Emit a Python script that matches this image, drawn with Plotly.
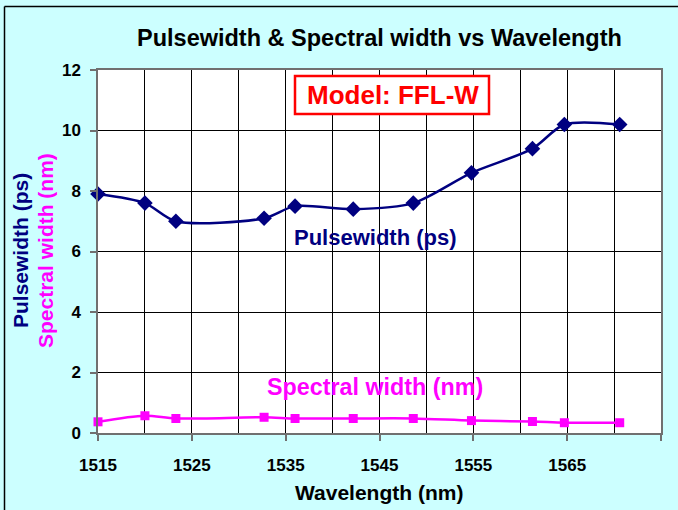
import plotly.graph_objects as go

wavelength = [1515, 1520, 1523.3, 1532.7, 1536, 1542.2, 1548.6, 1554.8, 1561.3, 1564.7, 1570.6]
pulsewidth = [7.9, 7.6, 7.0, 7.1, 7.5, 7.4, 7.6, 8.6, 9.4, 10.2, 10.2]
spectral_width = [0.37, 0.57, 0.48, 0.52, 0.48, 0.48, 0.48, 0.41, 0.38, 0.34, 0.34]

x_ticks = [1515, 1525, 1535, 1545, 1555, 1565, 1575]
y_ticks = [0, 2, 4, 6, 8, 10, 12]

NAVY = "#000080"
MAGENTA = "#FF00FF"
FONT = "Arial, Liberation Sans, sans-serif"

W, H = 678, 510
L, R, T, B = 98, 661, 70, 433


def px(x):
    return (x - L) / (R - L)


def py(y):
    return (B - y) / (B - T)


fig = go.Figure()
fig.add_trace(go.Scatter(
    x=wavelength, y=pulsewidth, mode="lines+markers",
    line=dict(color=NAVY, width=2.5, shape="spline", smoothing=0.8),
    marker=dict(symbol="diamond", size=12, color=NAVY),
    showlegend=False, cliponaxis=False,
))
fig.add_trace(go.Scatter(
    x=wavelength, y=spectral_width, mode="lines+markers",
    line=dict(color=MAGENTA, width=2.5, shape="spline", smoothing=0.8),
    marker=dict(symbol="square", size=9, color=MAGENTA),
    showlegend=False, cliponaxis=False,
))

axis_common = dict(
    showline=True, linecolor="#707070", linewidth=1.5, mirror=True,
    showgrid=True, gridcolor="#000000", gridwidth=1,
    ticks="outside", ticklen=6, tickcolor="#707070", tickwidth=1.5,
    tickfont=dict(family=FONT, size=17, color="#000000", weight="bold"),
    zeroline=False, fixedrange=True,
)

fig.update_xaxes(
    range=[1515, 1575], tickvals=x_ticks, ticktext=[str(v) for v in x_ticks],
    minor=dict(tickvals=[1520, 1530, 1540, 1550, 1560, 1570], showgrid=True,
               gridcolor="#000000", gridwidth=1, ticks=""),
    ticklabelstandoff=10,
    **axis_common,
)
fig.update_yaxes(
    range=[0, 12], tickvals=y_ticks, ticktext=[str(v) for v in y_ticks],
    ticklabelstandoff=6,
    **axis_common,
)


def ann(text, x, y, size, color, xref="paper", yref="paper", angle=0):
    return dict(text=text, x=x, y=y, xref=xref, yref=yref, xanchor="center",
                yanchor="middle", textangle=angle, showarrow=False,
                font=dict(family=FONT, size=size, color=color, weight="bold"))


annotations = [
    ann("Pulsewidth (ps)", 1544.57, 6.46, 22, NAVY, "x", "y"),
    ann("Spectral width (nm)", 1544.47, 1.53, 23.3, MAGENTA, "x", "y"),
    ann("Model: FFL-W", px(393), py(95), 26, "#FF0000"),
    ann("Pulsewidth (ps)", px(20), py(251), 21, NAVY, angle=-90),
    ann("Spectral width (nm)", px(45), py(251), 21, MAGENTA, angle=-90),
    ann("Wavelength (nm)", px(379), py(493), 21, "#000000"),
    ann("Pulsewidth &amp; Spectral width vs Wavelength", px(379), py(38), 23.5, "#000000"),
]

shapes = [
    dict(type="rect", xref="paper", yref="paper",
         x0=px(295), x1=px(489), y0=py(114), y1=py(76),
         line=dict(color="#FF0000", width=2.5), fillcolor="#FFFFFF", layer="above"),
    dict(type="line", xref="paper", yref="paper",
         x0=px(4.5), x1=px(4.5), y0=py(520), y1=py(6.5),
         line=dict(color="#000000", width=1.5), layer="below"),
    dict(type="line", xref="paper", yref="paper",
         x0=px(4.5), x1=px(690), y0=py(6.5), y1=py(6.5),
         line=dict(color="#000000", width=1.5), layer="below"),
]

fig.update_layout(
    width=W, height=H,
    margin=dict(l=L, r=W - R, t=T, b=H - B),
    paper_bgcolor="#CCFFFF", plot_bgcolor="#FFFFFF",
    annotations=annotations, shapes=shapes,
    font=dict(family=FONT),
)

fig.write_html(
    "out.html",
    config={"displayModeBar": False},
    post_script=(
        "document.body.style.margin='0';document.body.style.overflow='hidden';"
        "document.documentElement.style.overflow='hidden';"
        "document.body.style.background='#CCFFFF';"
    ),
)
